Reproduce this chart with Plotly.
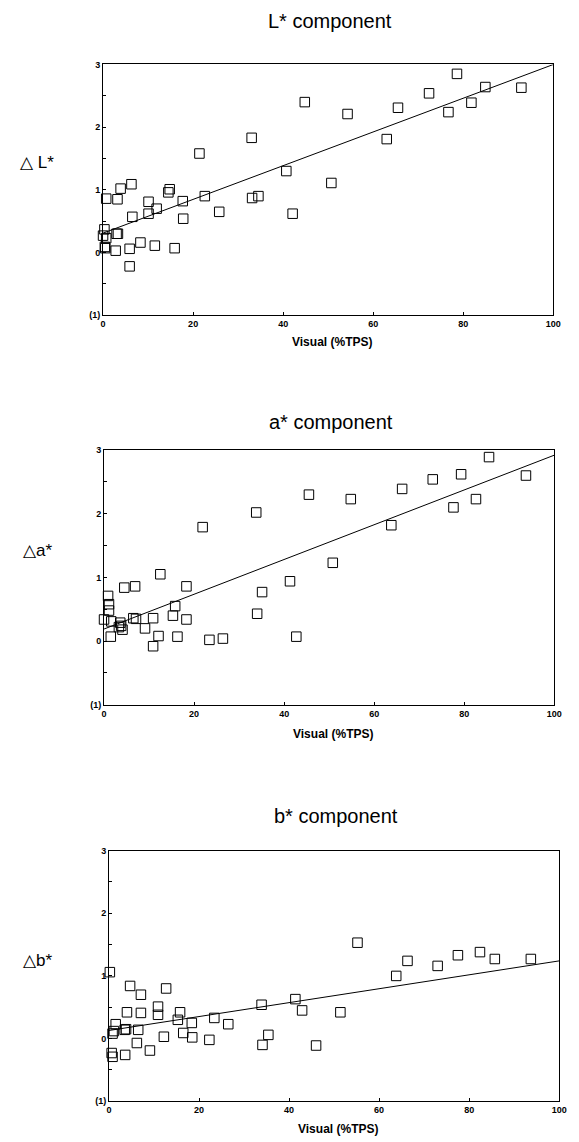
import plotly.graph_objects as go

# ---------------- data ----------------
L_x = [44.8, 33.0, 21.4, 40.7, 50.7, 6.3, 3.9, 0.7, 3.2, 14.8, 14.5, 10.1, 22.6, 17.7, 33.1, 34.5,
       11.9, 10.1, 25.8, 42.1, 6.5, 17.8, 0.3, 0.0, 3.0, 3.3, 0.7, 0.4, 2.8, 5.9, 8.3, 11.5, 15.9,
       5.9, 0.5, 78.6, 84.9, 92.9, 72.4, 81.8, 76.7, 65.5, 54.3, 63.0]
L_y = [2.40, 1.83, 1.58, 1.30, 1.11, 1.09, 1.02, 0.86, 0.85, 1.01, 0.96, 0.81, 0.90, 0.82, 0.87, 0.90,
       0.70, 0.62, 0.65, 0.62, 0.57, 0.54, 0.37, 0.27, 0.30, 0.30, 0.23, 0.09, 0.03, 0.06, 0.16, 0.11, 0.07,
       -0.22, 0.07, 2.85, 2.64, 2.63, 2.54, 2.39, 2.24, 2.31, 2.21, 1.81]
L_fit_x = [0, 100]
L_fit_y = [0.31, 3.00]

A_x = [45.5, 33.8, 21.9, 50.8, 12.5, 4.5, 6.9, 18.3, 41.3, 35.1, 15.8, 15.3, 34.0, 18.3, 10.9, 6.5,
       7.1, 9.1, 0.9, 1.1, 1.1, 0.0, 1.6, 3.6, 3.8, 3.3, 4.1, 1.5, 12.1, 16.3, 23.4, 26.4, 42.7, 10.9,
       85.5, 79.3, 93.7, 73.0, 66.2, 54.8, 82.6, 77.6, 63.8]
A_y = [2.30, 2.02, 1.79, 1.23, 1.05, 0.84, 0.86, 0.86, 0.94, 0.77, 0.55, 0.40, 0.43, 0.34, 0.36, 0.36,
       0.35, 0.20, 0.71, 0.58, 0.48, 0.34, 0.31, 0.29, 0.24, 0.22, 0.18, 0.07, 0.08, 0.07, 0.02, 0.04, 0.07, -0.08,
       2.89, 2.62, 2.60, 2.54, 2.39, 2.23, 2.23, 2.10, 1.82]
A_fit_x = [0, 100]
A_fit_y = [0.19, 2.92]

B_x = [0.2, 4.7, 12.7, 7.1, 4.0, 7.1, 10.9, 10.9, 15.8, 15.3, 18.4, 23.4, 26.5, 33.9, 41.4, 42.9,
       1.5, 1.1, 0.8, 3.5, 3.8, 6.5, 12.2, 16.5, 18.5, 22.3, 35.4, 34.1, 6.2, 9.1, 46.0, 0.6, 0.8, 3.6,
       55.2, 66.3, 63.8, 73.0, 77.5, 82.4, 85.7, 93.7, 51.4]
B_y = [1.06, 0.84, 0.80, 0.70, 0.42, 0.41, 0.51, 0.38, 0.42, 0.30, 0.25, 0.33, 0.23, 0.54, 0.63, 0.45,
       0.23, 0.12, 0.08, 0.14, 0.15, 0.14, 0.03, 0.09, 0.02, -0.02, 0.06, -0.10, -0.07, -0.19, -0.11, -0.23, -0.29, -0.26,
       1.53, 1.24, 1.00, 1.16, 1.33, 1.38, 1.27, 1.27, 0.42]
B_fit_x = [0, 100]
B_fit_y = [0.13, 1.24]

titles = ["L* component", "a* component", "b* component"]
ylabels = ["\u25b3 L*", "\u25b3a*", "\u25b3b*"]
xlabel = "Visual (%TPS)"
x_ticks = [0, 20, 40, 60, 80, 100]
y_tickvals = [-1, 0, 1, 2, 3]
y_ticktext = ["(1)", "0", "1", "2", "3"]

# ---------------- layout ----------------
W, H = 579, 1142
FONT = "Liberation Sans, Arial, sans-serif"
# pixel boxes: (left, right, top, bottom)
boxes = [(102, 561, 60, 313), (103, 562, 449, 706), (108, 567, 853, 1106)]
title_y = [16, 421, 818]
xlab_gap = [27, 29, 28]
ylab_val = [1.44, 1.43, 1.25]

series = [(L_x, L_y, L_fit_x, L_fit_y), (A_x, A_y, A_fit_x, A_fit_y), (B_x, B_y, B_fit_x, B_fit_y)]

fig = go.Figure()
annotations = []
for i, ((sx, sy, fx, fy), (l, r, t, b)) in enumerate(zip(series, boxes)):
    n = "" if i == 0 else str(i + 1)
    xa, ya = "x" + n, "y" + n
    fig.add_trace(go.Scatter(x=fx, y=fy, mode="lines", xaxis=xa, yaxis=ya,
                             line=dict(color="black", width=1), showlegend=False, hoverinfo="skip"))
    fig.add_trace(go.Scatter(x=sx, y=sy, mode="markers", xaxis=xa, yaxis=ya, cliponaxis=False,
                             marker=dict(symbol="square-open", size=9.5, color="black",
                                         line=dict(color="black", width=1)),
                             showlegend=False))
    axcommon = dict(showgrid=False, zeroline=False, showline=True, linecolor="black", linewidth=1,
                    mirror=True, ticks="inside", ticklen=3, tickcolor="black",
                    tickfont=dict(family=FONT, size=9, color="black", weight="bold"))
    fig.layout["xaxis" + n] = dict(domain=[l / W, r / W], anchor=ya, range=[0, 100],
                                   tickvals=x_ticks, ticklabelstandoff=0, **axcommon)
    fig.layout["yaxis" + n] = dict(domain=[1 - b / H, 1 - t / H], anchor=xa, range=[-1, 3],
                                   tickvals=y_tickvals, ticktext=y_ticktext,
                                   minor=dict(dtick=0.5, ticks="inside", ticklen=3, tickcolor="black"),
                                   **axcommon)
    cx = (l + r) / 2
    annotations.append(dict(text=titles[i], x=(cx + 2) / W, y=1 - title_y[i] / H, xref="paper", yref="paper",
                            showarrow=False, xanchor="center", yanchor="middle",
                            font=dict(family=FONT, size=20, color="black")))
    annotations.append(dict(text=xlabel, x=(cx + 4) / W, y=1 - (b + xlab_gap[i]) / H, xref="paper", yref="paper",
                            showarrow=False, xanchor="center", yanchor="middle",
                            font=dict(family=FONT, size=12, color="black", weight="bold")))
    annotations.append(dict(text=ylabels[i], x=35 / W, y=ylab_val[i], xref="paper", yref=ya,
                            showarrow=False, xanchor="center", yanchor="middle",
                            font=dict(family=FONT, size=17, color="black")))

fig.update_layout(width=W, height=H, margin=dict(l=0, r=0, t=0, b=0),
                  plot_bgcolor="white", paper_bgcolor="white", annotations=annotations)

fig.write_html("out.html", config={"displayModeBar": False},
               post_script="document.body.style.margin='0';document.body.style.padding='0';"
                           "document.body.style.overflow='hidden';")
